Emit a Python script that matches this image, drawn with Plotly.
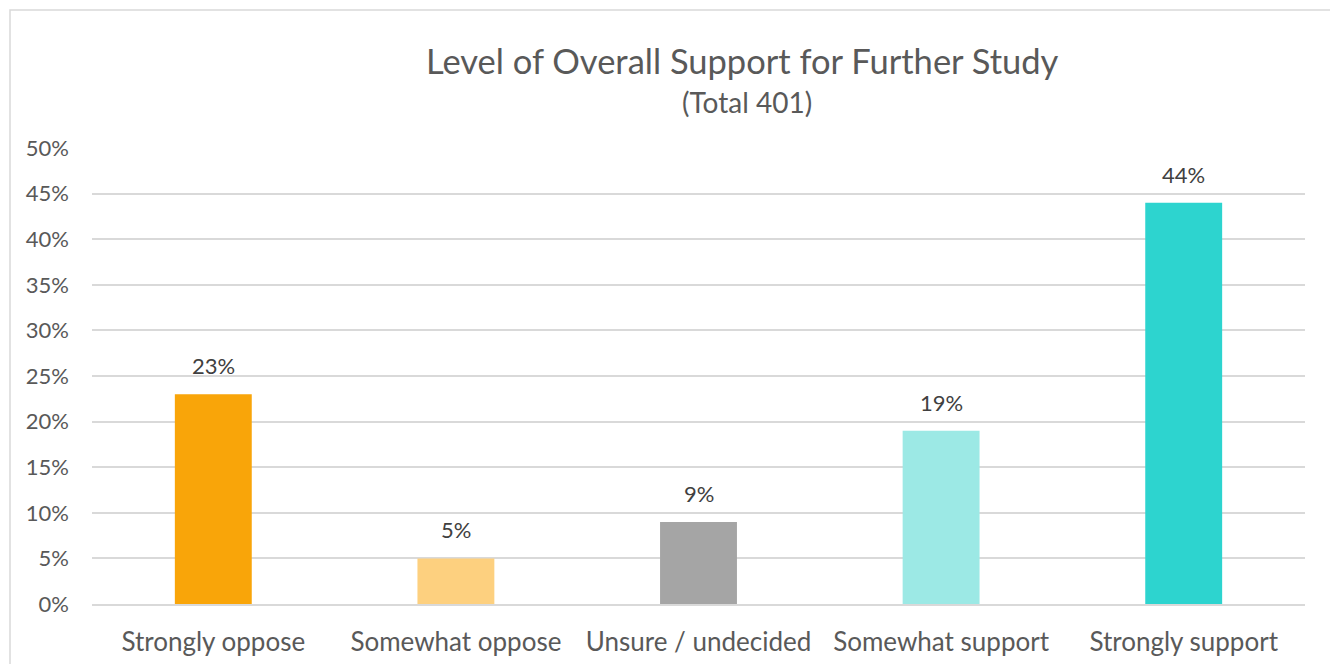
import plotly.graph_objects as go

categories = ["Strongly oppose", "Somewhat oppose", "Unsure / undecided", "Somewhat support", "Strongly support"]
values = [23, 5, 9, 19, 44]
colors = ["#F9A509", "#FDD07F", "#A5A5A5", "#9CE9E5", "#2DD4CF"]
labels = [f"{v}%" for v in values]
yticks = list(range(0, 51, 5))
ytick_text = [f"{t}%" for t in yticks]
title_text = "Level of Overall Support for Further Study"
subtitle_text = "(Total 401)"

W, H = 1330, 664
ml, mr, mt, mb = 92, 25, 148, 60
pw, ph = W - ml - mr, H - mt - mb


def py(pix):
    return 1 - (pix - mt) / ph


def px(pix):
    return (pix - ml) / pw


fig = go.Figure(go.Bar(
    x=categories, y=values, marker_color=colors, marker_line_width=0,
    hoverinfo="x+y",
))

annotations = [
    dict(x=c, y=v, text=t, xref="x", yref="y", showarrow=False,
         yanchor="bottom", yshift=13,
         font=dict(size=22, color="#404040", family="Lato"))
    for c, v, t in zip(categories, values, labels)
]
annotations += [
    dict(text=title_text, xref="paper", yref="paper", x=px(742), y=py(60),
         xanchor="center", yanchor="middle", showarrow=False,
         font=dict(size=34.5, color="#595959", family="Lato")),
    dict(text=subtitle_text, xref="paper", yref="paper", x=px(747), y=py(102),
         xanchor="center", yanchor="middle", showarrow=False,
         font=dict(size=28, color="#595959", family="Lato")),
]

fig.update_layout(
    width=W, height=H,
    margin=dict(l=ml, r=mr, t=mt, b=mb, autoexpand=False),
    paper_bgcolor="white", plot_bgcolor="white",
    bargap=0.683,
    showlegend=False,
    font=dict(family="Lato", color="#595959"),
    annotations=annotations,
    xaxis=dict(
        showgrid=False, showline=True, linecolor="#D9D9D9", linewidth=1.5,
        tickfont=dict(size=26, color="#595959"), ticks="", ticklabelstandoff=14,
        automargin=False,
    ),
    yaxis=dict(
        range=[0, 50], tickvals=yticks, ticktext=ytick_text,
        showgrid=True, gridcolor="#D9D9D9", gridwidth=1.5, zeroline=False,
        tickfont=dict(size=22, color="#595959"), ticks="", ticklabelstandoff=22,
        showline=False, automargin=False,
    ),
    shapes=[dict(
        type="rect", xref="paper", yref="paper",
        x0=(10 - ml) / pw, x1=1.2, y0=-0.5, y1=1 + (mt - 10) / ph,
        line=dict(color="#D9D9D9", width=1.5), fillcolor="rgba(0,0,0,0)", layer="below",
    )],
)

fig.write_html("out.html")
